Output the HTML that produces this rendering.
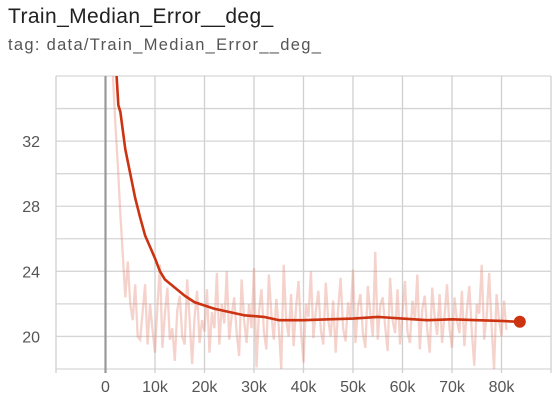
<!DOCTYPE html>
<html><head><meta charset="utf-8"><style>
body{margin:0;background:#fff;font-family:"Liberation Sans",sans-serif;}
#t{position:absolute;left:8px;top:5px;font-size:21px;letter-spacing:0.4px;color:#212121;}
#s{position:absolute;left:8px;top:36px;font-size:16.5px;letter-spacing:1.3px;color:#555;}
svg{position:absolute;left:0;top:0;}
</style></head><body>
<div id="t">Train_Median_Error__deg_</div>
<div id="s">tag: data/Train_Median_Error__deg_</div>
<svg id="c" width="553" height="411"></svg>
<script>
const xTicks=[-10000,0,10000,20000,30000,40000,50000,60000,70000,80000,90000];
const xTickLabels=["","0","10k","20k","30k","40k","50k","60k","70k","80k",""];
const yTicks=[18,20,22,24,26,28,30,32,34,36];
const yTickLabels=["","20","","24","","28","","32","",""];
const smoothSteps=[2200,2600,3000,4000,5000,6000,7000,8000,9000,10000,11000,12000,14000,16000,18000,20000,22000,25000,28000,32000,35000,40000,45000,50000,55000,60000,65000,70000,75000,80000,83700];
const smoothVals=[36.2,34.2,33.8,31.5,30,28.5,27.3,26.2,25.5,24.8,24,23.5,23,22.5,22.1,21.9,21.7,21.5,21.3,21.2,21.0,21.0,21.05,21.1,21.2,21.1,21.0,21.05,21.0,20.95,20.9];
const rawStart=1500, rawStep=500;
const rawVals=[36,33,30.5,27.5,25,22.4,24.6,22,21,23.2,20,19.8,21.5,23.2,19.5,22,20.4,19,21.9,24.4,19.3,21.4,23,19.8,20.5,18.5,21.6,22.5,20,19.5,23.5,21,18.3,21.2,22.8,19.6,21,20.3,22.9,19,21.5,20.5,23.9,19.5,22,20.8,24,19.8,21.3,22.4,20.2,18.8,23.5,21,19.6,22,20.5,24.2,18.1,21.5,22.9,20.3,19.2,23.8,21.4,19.8,22.3,20.6,18,24.4,21,20,22.6,19.4,21.8,23.4,20.3,18.4,22,21.2,24,19.9,21.6,22.8,20.4,19.5,23.3,21,20,22.2,19,21.7,23.6,20.5,19.7,22.1,21,24.1,19.6,21.8,22.6,20.2,19.3,23.1,21.4,20,25.2,19.8,21.9,22.4,20.6,19.1,23.6,21,20.2,22.9,19.5,21.5,23.4,20.3,19.6,22.2,21,23.8,19.2,21.7,22.5,20.4,19,23,21.2,20.1,22.6,19.6,21.3,23.2,20.5,19.3,22.4,21,20.2,22.8,19.4,21.6,23.1,20.3,18.2,22,21.4,24.4,19.8,21.2,23.9,20.6,18,22.6,21,20,22.2,20.4];
const L=56,R=551,T=76,B=369;
const sx=v=>L+(v+10000)/100000*(R-L);
const sy=v=>B-(v-18)/18*(B-T);
const svg=document.getElementById('c');const NS='http://www.w3.org/2000/svg';
function mk(tag,a){const e=document.createElementNS(NS,tag);for(const k in a)e.setAttribute(k,a[k]);svg.appendChild(e);return e;}
yTicks.forEach((v,i)=>{const g=mk('line',{x1:L,x2:R,y1:sy(v),y2:sy(v),stroke:'#d6d6d6','stroke-width':1.3});


if(yTickLabels[i]){const t=mk('text',{x:40,y:sy(v)+6,'text-anchor':'end','font-size':16,fill:'#555','font-family':'Liberation Sans, sans-serif'});t.textContent=yTickLabels[i];

}});
xTicks.forEach((v,i)=>{const g=mk('line',{x1:sx(v),x2:sx(v),y1:T,y2:B+4,stroke:v===0?'#999':'#d0d0d0','stroke-width':v===0?2.2:1.3});


if(xTickLabels[i]){const t=mk('text',{x:sx(v),y:392,'text-anchor':'middle','font-size':16,fill:'#555','font-family':'Liberation Sans, sans-serif'});t.textContent=xTickLabels[i];

}});
const clip=mk('clipPath',{id:'cp'});const cr=document.createElementNS(NS,'rect');cr.setAttribute('x',L);cr.setAttribute('y',T);cr.setAttribute('width',R-L);cr.setAttribute('height',B-T);clip.appendChild(cr);
const raw=mk('polyline',{points:rawVals.map((v,i)=>sx(rawStart+i*rawStep)+','+sy(v)).join(' '),fill:'none',stroke:'rgba(226,130,110,0.35)','stroke-width':2.3,'stroke-linejoin':'miter','clip-path':'url(#cp)'});


const sm=mk('polyline',{points:smoothVals.map((v,i)=>sx(smoothSteps[i])+','+sy(v)).join(' '),fill:'none',stroke:'#cc3311','stroke-width':2.6,'stroke-linejoin':'round','clip-path':'url(#cp)'});


const n=smoothVals.length-1;
const d=mk('circle',{cx:sx(smoothSteps[n]),cy:sy(smoothVals[n]),r:6,fill:'#cc3311'});


</script>
</body></html>
